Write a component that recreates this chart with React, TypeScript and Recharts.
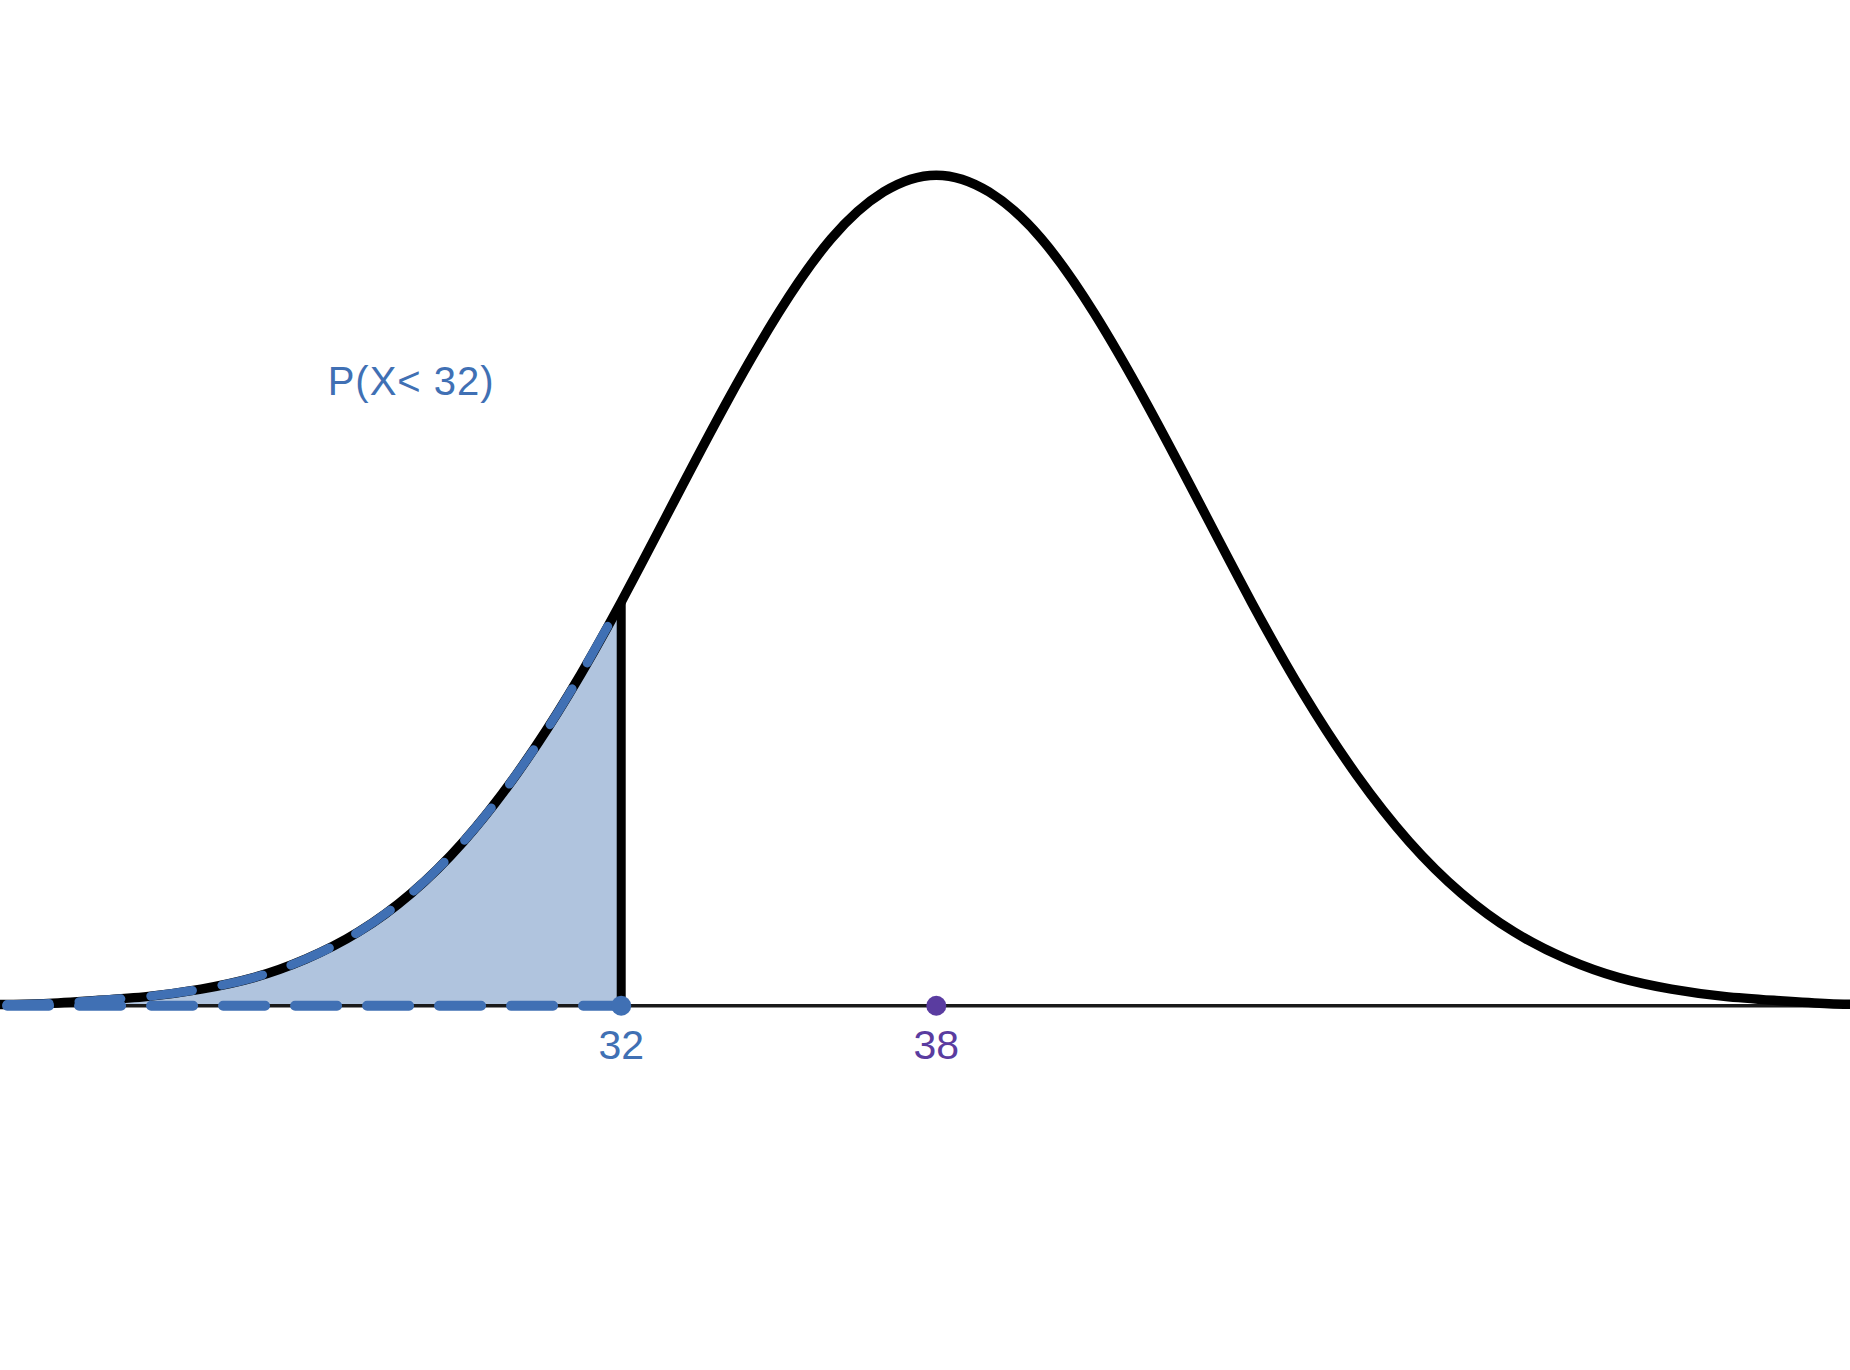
import React from "react";
import { ComposedChart, Line, Area, XAxis, YAxis, ReferenceDot } from "recharts";

// Normal curve (mean 38, sd 5)
const xValues = [20, 21, 22, 23, 24, 25, 26, 27, 28, 29, 30, 31, 32, 33, 34, 35, 36, 37, 38,
  39, 40, 41, 42, 43, 44, 45, 46, 47, 48, 49, 50, 51, 52, 53, 54, 55, 56];
const density = [0.0001, 0.0002, 0.0005, 0.0009, 0.0016, 0.0027, 0.0045, 0.0071, 0.0108, 0.0158,
  0.0222, 0.0299, 0.0388, 0.0484, 0.0579, 0.0666, 0.0737, 0.0782, 0.0798,
  0.0782, 0.0737, 0.0666, 0.0579, 0.0484, 0.0388, 0.0299, 0.0222, 0.0158, 0.0108,
  0.0071, 0.0045, 0.0027, 0.0016, 0.0009, 0.0005, 0.0002, 0.0001];
const cutoff = 32;
const mean = 38;
const cutoffDensity = 0.0388;
const probLabel = "P(X< 32)";
const probLabelPos = { x: 28.0, y: 0.06 };
const tickLabels = { cutoff: "32", mean: "38" };
const xDomain = [20.17, 55.4];
const yDomain = [-0.035, 0.09];

const BLUE = "#4070b4";
const PURPLE = "#5a3ca0";
const FILL = "#b0c4de";
const FONT = "'Liberation Sans', Arial, Helvetica, sans-serif";

const curveData = xValues.map((x, i) => ({ x, y: density[i] }));
const shadedData = curveData.filter((d) => d.x <= cutoff);
const axisData = [{ x: xValues[0], y: 0 }, { x: xValues[xValues.length - 1], y: 0 }];
const baseData = [{ x: xValues[0], y: 0 }, { x: cutoff, y: 0 }];
const cutLine = [{ x: cutoff, y: 0 }, { x: cutoff, y: cutoffDensity }];

export default function App() {
  return (
    <div style={{ width: 1850, height: 1370 }}>
      <style>{`body{margin:0;background:#fff}`}</style>
      <ComposedChart width={1850} height={1370} margin={{ top: 69, right: 0, bottom: 0, left: 0 }}>
        <XAxis dataKey="x" type="number" domain={xDomain} allowDataOverflow hide />
        <YAxis type="number" domain={yDomain} allowDataOverflow hide />
        <Line data={axisData} dataKey="y" type="linear" stroke="#1a1a1a" strokeWidth={3.5}
          dot={false} activeDot={false} isAnimationActive={false} />
        <Area data={shadedData} dataKey="y" type="natural" baseValue={0} fill={FILL} fillOpacity={1}
          stroke="none" isAnimationActive={false} />
        <Line data={curveData} dataKey="y" type="natural" stroke="#000" strokeWidth={9.5}
          dot={false} activeDot={false} isAnimationActive={false} />
        <Line data={shadedData} dataKey="y" type="natural" stroke={BLUE} strokeWidth={9}
          strokeDasharray="42 30" strokeDashoffset={56} strokeLinecap="round"
          dot={false} activeDot={false} isAnimationActive={false} />
        <Line data={baseData} dataKey="y" type="linear" stroke={BLUE} strokeWidth={10}
          strokeDasharray="42 30" strokeDashoffset={56} strokeLinecap="round"
          dot={false} activeDot={false} isAnimationActive={false} />
        <Line data={cutLine} dataKey="y" type="linear" stroke="#000" strokeWidth={9}
          strokeLinecap="butt" dot={false} activeDot={false} isAnimationActive={false} />
        <ReferenceDot x={cutoff} y={0} r={10} fill={BLUE} stroke="none"
          label={{ value: tickLabels.cutoff, position: "bottom", offset: 14, fill: BLUE, fontSize: 41, fontFamily: FONT }} />
        <ReferenceDot x={mean} y={0} r={10} fill={PURPLE} stroke="none"
          label={{ value: tickLabels.mean, position: "bottom", offset: 14, fill: PURPLE, fontSize: 41, fontFamily: FONT }} />
        <ReferenceDot x={probLabelPos.x} y={probLabelPos.y} r={1} fill="none" stroke="none"
          label={{ value: probLabel, position: "center", fill: BLUE, fontSize: 40, letterSpacing: 1, fontFamily: FONT }} />
      </ComposedChart>
    </div>
  );
}
